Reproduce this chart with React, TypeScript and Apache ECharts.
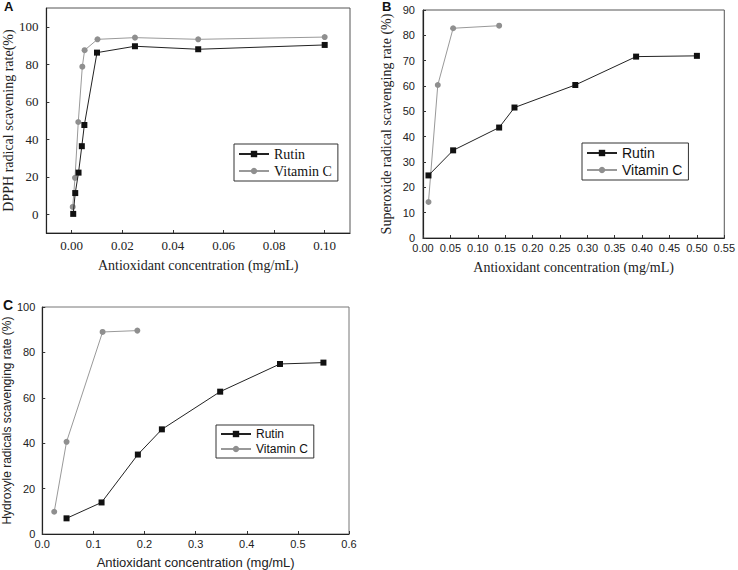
import React, { useEffect, useRef } from "react";
import * as echarts from "echarts";

// Panel A: DPPH
const aRutinX = [0.0006, 0.0014, 0.0027, 0.004, 0.005, 0.01, 0.025, 0.05, 0.1];
const aRutinY = [0.2, 11.3, 22.2, 36.3, 47.6, 86.2, 89.6, 88.0, 90.3];
const aVitX = [0.0004, 0.0013, 0.0026, 0.0042, 0.0051, 0.0102, 0.025, 0.05, 0.1];
const aVitY = [3.9, 19.4, 49.2, 78.7, 87.5, 93.3, 94.2, 93.3, 94.5];
const aXTicks = [0, 0.02, 0.04, 0.06, 0.08, 0.1];
const aYTicks = [0, 20, 40, 60, 80, 100];

// Panel B: Superoxide
const bRutinX = [0.01, 0.055, 0.139, 0.167, 0.278, 0.389, 0.5];
const bRutinY = [24.7, 34.6, 43.6, 51.5, 60.4, 71.6, 71.9];
const bVitX = [0.01, 0.027, 0.055, 0.139];
const bVitY = [14.2, 60.4, 82.8, 83.8];

// Panel C: Hydroxyl
const cRutinX = [0.0475, 0.116, 0.187, 0.234, 0.348, 0.465, 0.55];
const cRutinY = [6.9, 13.9, 35.0, 46.1, 62.7, 74.9, 75.5];
const cVitX = [0.0234, 0.0475, 0.118, 0.186];
const cVitY = [9.8, 40.6, 89.0, 89.6];

const SERIF = "Liberation Serif";
const SANS = "Liberation Sans";
const BLACK = "#111";
const GRAY = "#8f8f8f";

const zip = (xs: number[], ys: number[]) => xs.map((x, i) => [x, ys[i]]);

export default function App() {
  const ref = useRef<HTMLDivElement>(null);
  useEffect(() => {
    document.body.style.margin = "0";
    const chart = echarts.init(ref.current!, null, { renderer: "svg" });

    const axisCommon = (font: string, size: number) => ({
      axisLine: { show: true, onZero: false, lineStyle: { color: "#222", width: 1.2 } },
      axisTick: { show: true, inside: true, length: 3, lineStyle: { color: "#333" } },
      splitLine: { show: false },
      axisLabel: { fontFamily: font, fontSize: size, color: "#222", margin: 5 },
      nameTextStyle: { fontFamily: font, fontSize: 14, color: "#222" },
      nameLocation: "middle" as const,
    });

    const lineSeries = (name: string, data: number[][], idx: number, color: string, lineColor: string, symbol: string) => ({
      type: "line",
      name,
      data,
      xAxisIndex: idx,
      yAxisIndex: idx,
      symbol,
      symbolSize: 6,
      lineStyle: { color: lineColor, width: 1 },
      itemStyle: { color },
      z: symbol === "rect" ? 3 : 2,
    });

    const legendCommon = (font: string, size: number, left: number, top: number, w: number) => ({
      show: true,
      orient: "vertical" as const,
      left,
      top,
      width: w,
      padding: [3, 6, 3, 4],
      itemWidth: 30,
      itemHeight: 8,
      itemGap: 3,
      borderColor: "#333",
      borderWidth: 1,
      backgroundColor: "#fff",
      textStyle: { fontFamily: font, fontSize: size, color: "#111" },
      data: ["Rutin", "Vitamin C"],
    });

    chart.setOption({
      animation: false,
      backgroundColor: "#fff",
      grid: [
        { left: 45, top: 8, width: 305, height: 225, show: true, borderColor: "#555", borderWidth: 1 },
        { left: 423, top: 10, width: 305, height: 228, show: true, borderColor: "#555", borderWidth: 1 },
        { left: 42, top: 307, width: 307, height: 227, show: true, borderColor: "#777", borderWidth: 1 },
      ],
      xAxis: [
        {
          ...axisCommon(SERIF, 13),
          gridIndex: 0,
          type: "value",
          min: -0.01,
          max: 0.11,
          name: "Antioxidant concentration (mg/mL)",
          nameGap: 25,
          axisTick: { show: true, inside: true, length: 3, customValues: aXTicks, lineStyle: { color: "#333" } },
          axisLabel: {
            fontFamily: SERIF, fontSize: 13, color: "#222", margin: 6,
            customValues: aXTicks,
            formatter: (v: number) => v.toFixed(2),
          },
        },
        {
          ...axisCommon(SANS, 11),
          gridIndex: 1,
          type: "value",
          min: 0,
          max: 0.55,
          interval: 0.05,
          name: "Antioxidant concentration (mg/mL)",
          nameGap: 22,
          nameTextStyle: { fontFamily: SERIF, fontSize: 14, color: "#222" },
          axisLabel: { fontFamily: SANS, fontSize: 11, color: "#222", margin: 4, formatter: (v: number) => v.toFixed(2) },
        },
        {
          ...axisCommon(SANS, 11),
          gridIndex: 2,
          type: "value",
          min: 0,
          max: 0.6,
          interval: 0.1,
          name: "Antioxidant concentration (mg/mL)",
          nameGap: 22,
          nameTextStyle: { fontFamily: SANS, fontSize: 13, color: "#222" },
          axisLabel: { fontFamily: SANS, fontSize: 11, color: "#222", margin: 4, formatter: (v: number) => v.toFixed(1) },
        },
      ],
      yAxis: [
        {
          ...axisCommon(SERIF, 13),
          gridIndex: 0,
          type: "value",
          min: -10,
          max: 110,
          name: "DPPH radical scavening rate(%)",
          nameGap: 26,
          axisTick: { show: true, inside: true, length: 3, customValues: aYTicks, lineStyle: { color: "#333" } },
          axisLabel: { fontFamily: SERIF, fontSize: 13, color: "#222", margin: 8, customValues: aYTicks },
        },
        {
          ...axisCommon(SANS, 11),
          gridIndex: 1,
          type: "value",
          min: 0,
          max: 90,
          interval: 10,
          name: "Superoxide radical scavenging rate (%)",
          nameGap: 30,
          nameTextStyle: { fontFamily: SERIF, fontSize: 14, color: "#222" },
          axisLabel: { fontFamily: SANS, fontSize: 11, color: "#222", margin: 8 },
        },
        {
          ...axisCommon(SANS, 11),
          gridIndex: 2,
          type: "value",
          min: 0,
          max: 100,
          interval: 20,
          name: "Hydroxyle radicals scavenging rate (%)",
          nameGap: 28,
          nameTextStyle: { fontFamily: SANS, fontSize: 12, color: "#222" },
          axisLabel: { fontFamily: SANS, fontSize: 11, color: "#222", margin: 7 },
        },
      ],
      legend: [
        legendCommon(SERIF, 14, 234, 144, 92),
        legendCommon(SANS, 14, 582, 143, 111),
        legendCommon(SANS, 12, 216, 425, 95),
      ],
      series: [
        lineSeries("Rutin", zip(aRutinX, aRutinY), 0, BLACK, "#222", "rect"),
        lineSeries("Vitamin C", zip(aVitX, aVitY), 0, GRAY, "#999", "circle"),
        lineSeries("Rutin", zip(bRutinX, bRutinY), 1, BLACK, "#222", "rect"),
        lineSeries("Vitamin C", zip(bVitX, bVitY), 1, GRAY, "#999", "circle"),
        lineSeries("Rutin", zip(cRutinX, cRutinY), 2, BLACK, "#222", "rect"),
        lineSeries("Vitamin C", zip(cVitX, cVitY), 2, GRAY, "#999", "circle"),
      ],
      graphic: [
        { type: "text", left: 4, top: 0, style: { text: "A", fontFamily: SANS, fontWeight: "bold", fontSize: 13, fill: "#111" } },
        { type: "text", left: 382, top: 0, style: { text: "B", fontFamily: SANS, fontWeight: "bold", fontSize: 13, fill: "#111" } },
        { type: "text", left: 3, top: 298, style: { text: "C", fontFamily: SANS, fontWeight: "bold", fontSize: 14, fill: "#111" } },
      ],
    });
    return () => chart.dispose();
  }, []);
  return <div ref={ref} style={{ width: 738, height: 570 }} />;
}
